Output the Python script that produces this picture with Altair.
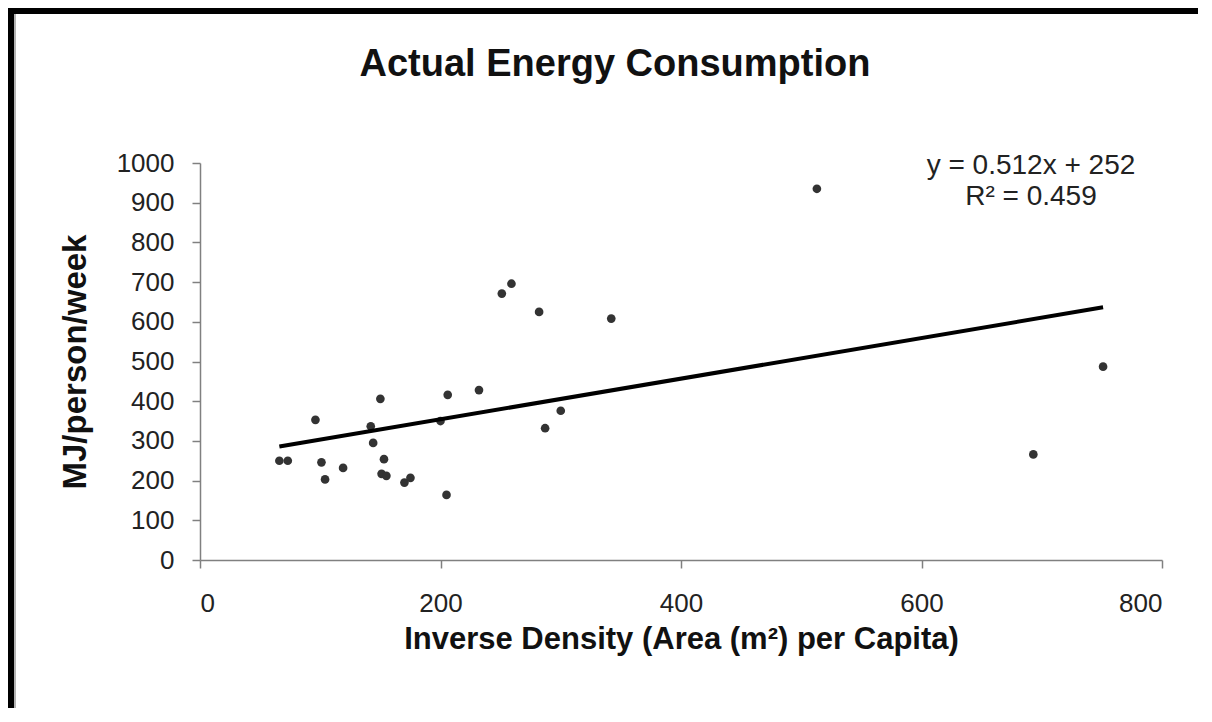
import altair as alt
import pandas as pd

# ---- data ----
x_vals = [66, 73, 96, 101, 104, 119, 142, 144, 150, 151, 153, 155, 170, 175,
          200, 205, 206, 232, 251, 259, 282, 287, 300, 342, 513, 693, 751]
y_vals = [250, 250, 353, 246, 203, 232, 337, 295, 406, 217, 254, 212, 195, 207,
          350, 164, 416, 428, 671, 696, 625, 332, 376, 608, 935, 266, 487]

slope = 0.512
intercept = 252
equation_text = "y = 0.512x + 252"
r2_text = "R² = 0.459"

title_text = "Actual Energy Consumption"
x_title = "Inverse Density (Area (m²) per Capita)"
y_title = "MJ/person/week"
x_ticks = [0, 200, 400, 600, 800]
y_ticks = [0, 100, 200, 300, 400, 500, 600, 700, 800, 900, 1000]

FONT = "Liberation Sans"

pts = pd.DataFrame({"x": x_vals, "y": y_vals})
ends = [min(x_vals), max(x_vals)]
fit = pd.DataFrame({"x": ends, "y": [slope * v + intercept for v in ends]})

xs = alt.Scale(domain=[x_ticks[0], x_ticks[-1]], nice=False, zero=False)
ys = alt.Scale(domain=[y_ticks[0], y_ticks[-1]], nice=False, zero=False)

x_axis = alt.Axis(values=x_ticks, format="d", grid=False, tickSize=8, labelPadding=22,
                  labelFontSize=26, labelFont=FONT, labelColor="#222222",
                  labelOverlap=False,
                  domainColor="#808080", tickColor="#808080", domainWidth=1.5,
                  tickWidth=1.5, title=x_title, titleFont=FONT, titleFontSize=31,
                  titleFontWeight="bold", titleColor="#111111", titlePadding=8)
y_axis = alt.Axis(values=y_ticks, format="d", grid=False, tickSize=8, labelPadding=18,
                  labelFontSize=26, labelFont=FONT, labelColor="#222222",
                  labelOverlap=False, labelBound=False,
                  domainColor="#808080", tickColor="#808080", domainWidth=1.5,
                  tickWidth=1.5, title=y_title, titleFont=FONT, titleFontSize=33,
                  titleFontWeight="bold", titleColor="#111111", titlePadding=24)

points = alt.Chart(pts).mark_circle(size=75, color="#333333", opacity=1).encode(
    x=alt.X("x:Q", scale=xs, axis=x_axis),
    y=alt.Y("y:Q", scale=ys, axis=y_axis),
)

line = alt.Chart(fit).mark_line(color="#000000", strokeWidth=4).encode(
    x=alt.X("x:Q", scale=xs, axis=x_axis),
    y=alt.Y("y:Q", scale=ys, axis=y_axis),
)

eq = alt.Chart(pd.DataFrame({"t": [equation_text]})).mark_text(
    font=FONT, fontSize=28, color="#222222", align="center", baseline="middle"
).encode(text="t:N", x=alt.value(831), y=alt.value(3))

r2 = alt.Chart(pd.DataFrame({"t": [r2_text]})).mark_text(
    font=FONT, fontSize=28, color="#222222", align="center", baseline="middle"
).encode(text="t:N", x=alt.value(831), y=alt.value(34))

ttl = alt.Chart(pd.DataFrame({"t": [title_text]})).mark_text(
    font=FONT, fontSize=38, fontWeight="bold", color="#111111",
    align="center", baseline="middle"
).encode(text="t:N", x=alt.value(415), y=alt.value(-98))

# black frame edges (top and left) like the reference
frame_src = pd.DataFrame({"k": [0]})
left_edge = alt.Chart(frame_src).mark_rule(color="#000000", strokeWidth=6).encode(
    x=alt.value(-189), y=alt.value(-155), y2=alt.value(545))
top_edge = alt.Chart(frame_src).mark_rule(color="#000000", strokeWidth=6).encode(
    x=alt.value(-192), x2=alt.value(1000), y=alt.value(-152))
left_inner = alt.Chart(frame_src).mark_rule(color="#9a9a9a", strokeWidth=1.5).encode(
    x=alt.value(-185), y=alt.value(-149), y2=alt.value(545))

chart = alt.layer(points, line, eq, r2, ttl, left_edge, top_edge, left_inner).properties(
    width=962,
    height=397,
    autosize=alt.AutoSizeParams(type="none"),
    padding={"left": 192, "top": 155, "right": 36, "bottom": 148},
    background="#ffffff",
).configure_view(stroke=None)

chart.save("out.html", embed_options={"renderer": "svg", "actions": False})
